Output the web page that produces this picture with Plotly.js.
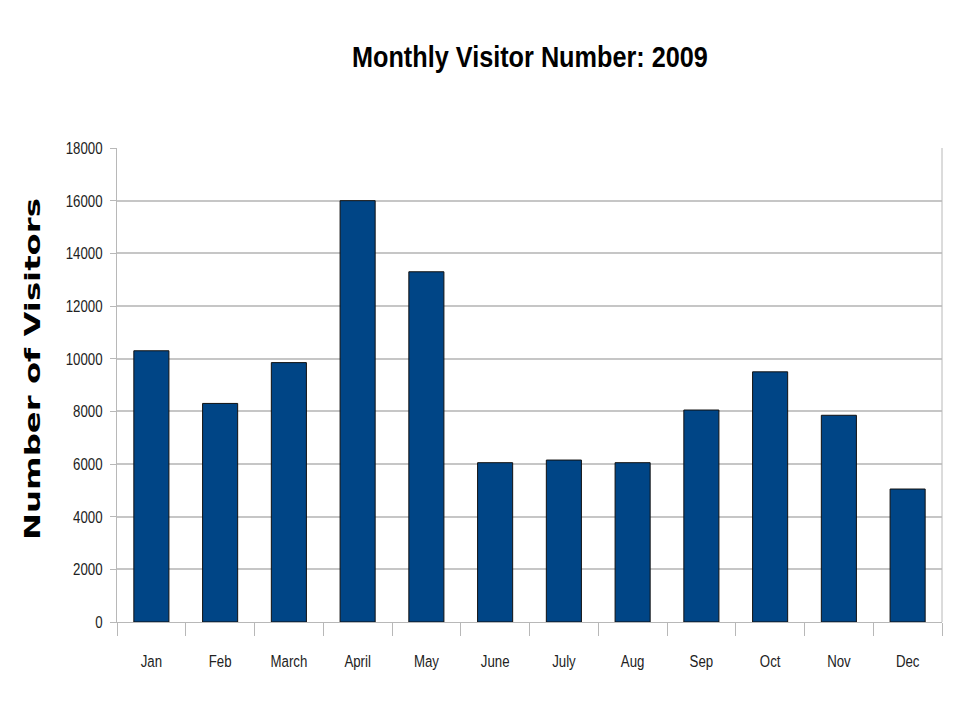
<!DOCTYPE html>
<html>
<head>
<meta charset="utf-8">
<script src="https://cdn.plot.ly/plotly-3.0.1.min.js"></script>
<style>html,body{margin:0;padding:0;background:#fff;}#chart{width:960px;height:720px;}</style>
</head>
<body>
<div id="chart"></div>
<script>
const months = ["Jan","Feb","March","April","May","June","July","Aug","Sep","Oct","Nov","Dec"];
const visitors = [10300, 8300, 9850, 16000, 13300, 6050, 6150, 6050, 8050, 9500, 7850, 5050];
const yTicks = [0,2000,4000,6000,8000,10000,12000,14000,16000,18000];

const sans = "Liberation Sans, Arial, sans-serif";

Plotly.newPlot("chart", [{
  type: "bar",
  x: months,
  y: visitors,
  marker: {color: "#004586", line: {color: "#111111", width: 1}},
  hoverinfo: "x+y"
}], {
  width: 960, height: 720,
  paper_bgcolor: "#ffffff", plot_bgcolor: "#ffffff",
  margin: {l: 117, r: 18, t: 148, b: 98},
  bargap: 0.49,
  showlegend: false,
  title: {text: "<b>Monthly Visitor Number: 2009</b>", x: 0.552, xanchor: "center", y: 0.921, yanchor: "middle",
          font: {family: sans, size: 30, color: "#000000"}},
  xaxis: {
    type: "category",
    tickson: "boundaries",
    ticks: "outside", ticklen: 13, tickcolor: "#b8b8b8", tickwidth: 1,
    showline: true, linecolor: "#b8b8b8", linewidth: 1,
    showgrid: false,
    tickfont: {family: sans, size: 17, color: "#222222"},
    ticklabelstandoff: 24
  },
  yaxis: {
    range: [0, 18000],
    tickmode: "array", tickvals: yTicks, ticktext: yTicks.map(String),
    showgrid: true, gridcolor: "#c6c6c6", gridwidth: 2,
    showline: true, linecolor: "#b8b8b8", linewidth: 1,
    ticks: "outside", ticklen: 6, tickcolor: "#b8b8b8",
    zeroline: false,
    tickfont: {family: sans, size: 17, color: "#222222"},
    ticklabelstandoff: 4,
    title: {text: "<b>Number of Visitors</b>", standoff: 20,
            font: {family: "DejaVu Sans, sans-serif", size: 22, color: "#000000"}}
  },
  shapes: [{type: "line", xref: "paper", yref: "paper", x0: 1, x1: 1, y0: 0, y1: 1,
            line: {color: "#b8b8b8", width: 1}}]
}, {displayModeBar: false, staticPlot: true}).then(function (gd) {
  // condense / stretch text horizontally in its own frame to imitate the original typefaces
  function squeeze(el, s, anchor, dx, dy) {
    const bb = el.getBBox();
    const ax = anchor === "end" ? bb.x + bb.width : bb.x + bb.width / 2;
    const prev = el.getAttribute("transform") || "";
    el.setAttribute("transform", prev + " translate(" + (ax + (dx || 0)) + "," + (dy || 0) + ") scale(" + s + ",1) translate(" + (-ax) + ",0)");
  }
  const t = gd.querySelector(".gtitle");
  if (t) squeeze(t, 356 / t.getBBox().width, "middle", 0, 0);
  const yt = gd.querySelector(".ytitle");
  if (yt) squeeze(yt, 342 / yt.getBBox().width, "middle", 16, 12);
  gd.querySelectorAll(".xtick text").forEach(function (el) { squeeze(el, 0.78, "middle", 0, 0); });
  gd.querySelectorAll(".ytick text").forEach(function (el) { squeeze(el, 0.78, "end", 0, 0); });
});
</script>
</body>
</html>
